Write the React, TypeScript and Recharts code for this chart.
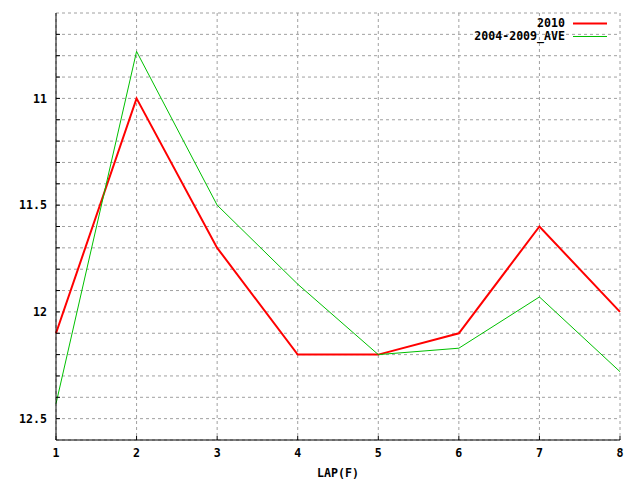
import React from 'react'
import {
  LineChart,
  Line,
  XAxis,
  YAxis,
  CartesianGrid,
} from 'recharts'

// lap number (furlongs)
const laps = [1, 2, 3, 4, 5, 6, 7, 8]
// lap times, seconds
const times2010 = [12.1, 11.0, 11.7, 12.2, 12.2, 12.1, 11.6, 12.0]
const timesAve = [12.43, 10.78, 11.5, 11.87, 12.2, 12.17, 11.93, 12.28]

const yTicks = [10.7, 10.8, 10.9, 11, 11.1, 11.2, 11.3, 11.4, 11.5, 11.6, 11.7, 11.8, 11.9, 12, 12.1, 12.2, 12.3, 12.4, 12.5]
const yLabels = [11, 11.5, 12, 12.5]

const FONT = '"DejaVu Sans Mono", monospace'
const tickStyle = { fontSize: 11.6, fill: '#000', fontFamily: FONT, fontWeight: 'bold' as const }

const data = laps.map((lap, i) => ({
  lap,
  y2010: times2010[i],
  ave: timesAve[i],
}))

const legendItems = [
  { name: '2010', color: '#ff0000', width: 2 },
  { name: '2004-2009_AVE', color: '#00c000', width: 1 },
]

// gnuplot-style key, top right inside the plot
function KeyBox() {
  return (
    <div
      style={{
        position: 'absolute',
        top: 17,
        right: 33,
        fontFamily: FONT,
        fontWeight: 'bold',
        fontSize: 11.6,
        color: '#000',
        lineHeight: '13px',
      }}
    >
      {legendItems.map((item) => (
        <div key={item.name} style={{ display: 'flex', alignItems: 'center', justifyContent: 'flex-end', height: 13 }}>
          <span>{item.name}</span>
          <svg width={42} height={13}>
            <line x1={8} x2={42} y1={6.5} y2={6.5} stroke={item.color} strokeWidth={item.width} />
          </svg>
        </div>
      ))}
    </div>
  )
}

export default function App() {
  return (
    <div style={{ position: 'absolute', left: 0, top: 0, width: 640, height: 480, background: '#fff' }}>
      <LineChart width={640} height={480} data={data} margin={{ top: 13, right: 20, bottom: 0, left: 0 }}>
        <CartesianGrid stroke="#a0a0a0" strokeDasharray="3 3" />
        <XAxis
          dataKey="lap"
          type="number"
          domain={[1, 8]}
          ticks={laps}
          height={40}
          tick={tickStyle}
          tickSize={-4}
          tickMargin={13}
          tickLine={{ stroke: '#000' }}
          axisLine={{ stroke: '#000' }}
          label={{ value: 'LAP(F)', position: 'insideBottom', offset: 3, style: { ...tickStyle, textAnchor: 'middle' } }}
        />
        <XAxis
          xAxisId="top"
          orientation="top"
          dataKey="lap"
          type="number"
          domain={[1, 8]}
          ticks={laps}
          height={0}
          tick={false}
          tickSize={-4}
          tickLine={{ stroke: '#000' }}
          axisLine={{ stroke: '#000' }}
        />
        <YAxis
          type="number"
          reversed
          domain={[10.6, 12.6]}
          ticks={yTicks}
          width={56}
          interval={0}
          tick={tickStyle}
          tickSize={-4}
          tickMargin={13}
          tickLine={{ stroke: '#000' }}
          axisLine={{ stroke: '#000' }}
          tickFormatter={(v: number) => (yLabels.includes(v) ? String(v) : '')}
        />
        <YAxis
          yAxisId="right"
          orientation="right"
          type="number"
          reversed
          domain={[10.6, 12.6]}
          ticks={yTicks}
          width={0}
          interval={0}
          tick={false}
          tickSize={-4}
          tickLine={{ stroke: '#000' }}
          axisLine={{ stroke: '#000' }}
        />
        <Line
          type="linear"
          dataKey="y2010"
          name="2010"
          stroke="#ff0000"
          strokeWidth={2}
          dot={false}
          isAnimationActive={false}
        />
        <Line
          type="linear"
          dataKey="ave"
          name="2004-2009_AVE"
          stroke="#00c000"
          strokeWidth={1}
          dot={false}
          isAnimationActive={false}
        />
      </LineChart>
      <KeyBox />
    </div>
  )
}
